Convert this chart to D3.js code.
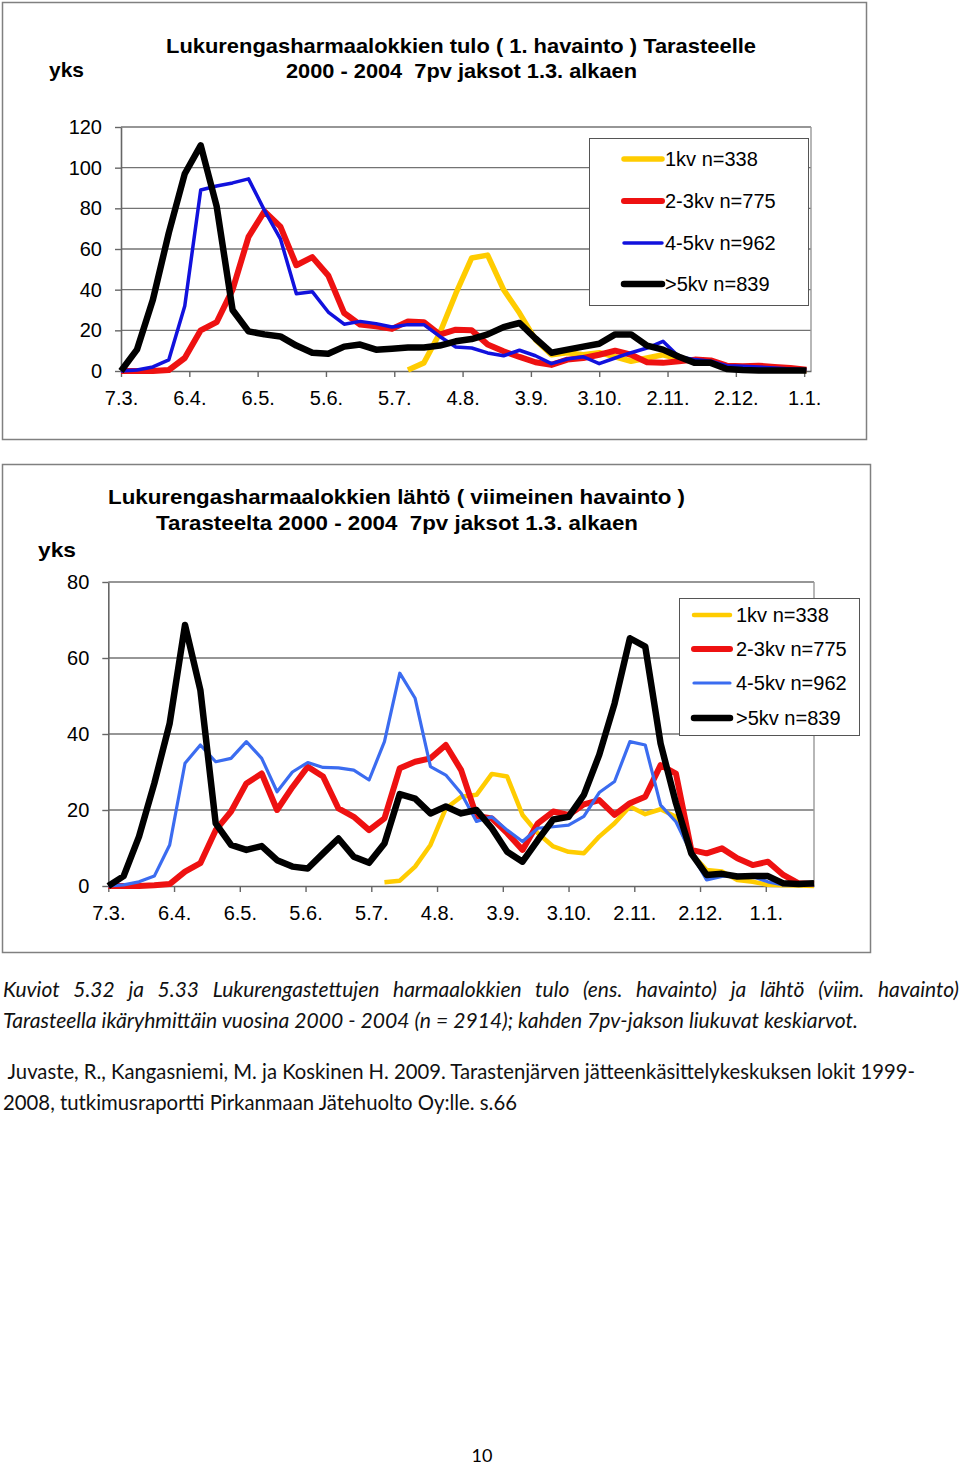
<!DOCTYPE html>
<html>
<head>
<meta charset="utf-8">
<script src="https://cdn.jsdelivr.net/npm/d3@7"></script>
<style>
  body { margin: 0; background: #fff; }
  svg { display: block; }
  text { white-space: pre; }
</style>
</head>
<body>
<div id="chart"></div>
<script>
// weekly periods, first point 7.3., axis ticks every 30 days
const periodStart = new Date(2001, 2, 7);
const tickDays = [0, 30, 60, 90, 120, 150, 180, 210, 240, 270, 300];
const seriesNames = ['1kv n=338', '2-3kv n=775', '4-5kv n=962', '>5kv n=839'];

// Kuvio 5.32: tulo (1. havainto), 44 weekly values
const arrival1kv = [null, null, null, null, null, null, null, null, null, null,
  null, null, null, null, null, null, null, null, 0.5, 4,
  18.7, 38, 55.6, 57, 40, 28.5, 15.4, 8, 9, 8,
  9, 7, 4.8, 6.4, 8, 6, 4.8, 4.3, 2.3, 1.5,
  1, 0.8, 0.5, 0.3];
const arrival23kv = [0, 0, 0, 0.5, 6.4, 20, 24, 40, 66, 78.5,
  71, 52, 56, 47, 28.5, 22.8, 22, 20.7, 24.4, 24,
  17.9, 20.3, 20, 13, 9.7, 6.9, 4.3, 3, 5.6, 6.4,
  8, 10, 8, 4.3, 4, 4.8, 5.6, 5.2, 2.6, 2.3,
  2.6, 2, 1.5, 0.6];
const arrival45kv = [0, 0.5, 2, 5.5, 32, 89, 91, 92.5, 94.5, 79,
  65, 38, 39, 29, 23, 24.4, 23.3, 21.6, 22.8, 22.8,
  17, 11.8, 11.3, 8.9, 7.5, 10.2, 7.5, 3.6, 5.9, 7,
  3.6, 6.4, 9, 11.3, 14.6, 7, 5.6, 4.8, 2.6, 2.3,
  2, 1.5, 1, 0.6];
const arrival5kv = [0, 10.5, 35, 68, 97, 111, 81, 30, 19.5, 18,
  17, 12.5, 9, 8.5, 12, 13, 10.5, 11, 11.5, 11.6,
  12.5, 14.6, 15.7, 18, 21.6, 23.6, 16, 9, 10.5, 12,
  13.4, 18, 18, 12.5, 10.5, 7, 4, 4, 1, 0.5,
  0.3, 0.3, 0.3, 0.3];

// Kuvio 5.33: lähtö (viimeinen havainto), 47 weekly values
const departure1kv = [null, null, null, null, null, null, null, null, null, null,
  null, null, null, null, null, null, null, null, 1, 1.4,
  5.1, 10.8, 20.4, 23.5, 24, 29.5, 28.8, 18.7, 13.9, 10.4,
  9, 8.6, 13, 16.5, 20.9, 18.9, 20.2, 18.2, 8.6, 4.2,
  3.8, 1.6, 1.1, 0.3, 0.2, 0.1, 0];
const departure23kv = [0, 0, 0, 0.2, 0.5, 3.8, 6, 14.7, 19.6, 27,
  29.6, 20, 26, 31.4, 28.8, 20.4, 18.2, 14.7, 17.8, 31,
  32.7, 33.6, 37.1, 30.5, 18.4, 17.8, 13.9, 9.5, 16.5, 19.6,
  18.7, 21.5, 22.6, 18.7, 21.8, 23.5, 31.8, 29.6, 9.5, 8.6,
  9.9, 7.3, 5.5, 6.4, 2.9, 0.7, 0.5];
const departure45kv = [0, 0.3, 1.1, 2.6, 10.8, 32.3, 37.1, 32.7, 33.6, 38,
  33.6, 24.8, 30, 32.5, 31.2, 31.1, 30.5, 27.9, 38, 56,
  49.4, 31.4, 29.2, 24.4, 17, 18.2, 14.7, 11.7, 15.2, 15.6,
  16, 18.3, 24.6, 27.5, 38, 37.1, 21.3, 16.9, 8.6, 1.6,
  2.5, 2.9, 2.5, 1.1, 0.3, 0.3, 0.3];
const departure5kv = [0, 2.6, 13, 27, 42.8, 68.7, 51.6, 16.5, 10.8, 9.5,
  10.5, 6.8, 5.1, 4.6, 8.6, 12.5, 7.7, 6.1, 11.2, 24.2,
  23, 19.1, 20.9, 19.1, 20, 15.2, 9, 6.4, 12.1, 17.5,
  18.2, 24, 34.5, 48, 65.2, 63, 37.5, 21.8, 8.6, 2.9,
  3.2, 2.5, 2.6, 2.6, 0.7, 0.5, 0.7];

const yTicks1 = [0, 20, 40, 60, 80, 100, 120];
const yTicks2 = [0, 20, 40, 60, 80];

const captionLines = [
  'Kuviot 5.32 ja 5.33 Lukurengastettujen harmaalokkien tulo (ens. havainto) ja lähtö (viim. havainto)',
  'Tarasteella ikäryhmittäin vuosina 2000 - 2004 (n = 2914); kahden 7pv-jakson liukuvat keskiarvot.',
  ' Juvaste, R., Kangasniemi, M. ja Koskinen H. 2009. Tarastenjärven jätteenkäsittelykeskuksen lokit 1999-',
  '2008, tutkimusraportti Pirkanmaan Jätehuolto Oy:lle. s.66'
];

const FONT = '"Liberation Sans", Arial, sans-serif';
const GRID = '#737373';

const svg = d3.select('#chart').append('svg')
  .attr('width', 960)
  .attr('height', 1465);
svg.append('rect').attr('width', 960).attr('height', 1465).attr('fill', '#fff');

const fmtTick = d => `${d.getDate()}.${d.getMonth() + 1}.`;

function drawChart(cfg) {
  const g = svg.append('g');

  // outer chart frame
  g.append('rect')
    .attr('x', cfg.frame[0]).attr('y', cfg.frame[1])
    .attr('width', cfg.frame[2]).attr('height', cfg.frame[3])
    .attr('fill', 'none').attr('stroke', '#808080').attr('stroke-width', 1.5);

  const x = d3.scaleTime()
    .domain([periodStart, d3.timeDay.offset(periodStart, cfg.spanDays)])
    .range([cfg.left, cfg.right]);
  const y = d3.scaleLinear()
    .domain([0, cfg.yMax])
    .range([cfg.bottom, cfg.top]);

  // gridlines + plot area border
  g.append('g').selectAll('line')
    .data(cfg.yTicks.filter(v => v > 0))
    .join('line')
    .attr('x1', cfg.left).attr('x2', cfg.right)
    .attr('y1', d => y(d)).attr('y2', d => y(d))
    .attr('stroke', GRID).attr('stroke-width', 1.4);
  g.append('line')
    .attr('x1', cfg.right).attr('x2', cfg.right)
    .attr('y1', cfg.top).attr('y2', cfg.bottom)
    .attr('stroke', '#999').attr('stroke-width', 1.4);

  // axes
  const yAxis = g.append('g')
    .attr('transform', `translate(${cfg.left},0)`)
    .call(d3.axisLeft(y).tickValues(cfg.yTicks).tickSize(6).tickSizeOuter(0).tickPadding(13));
  const xAxis = g.append('g')
    .attr('transform', `translate(0,${cfg.bottom})`)
    .call(d3.axisBottom(x)
      .tickValues(tickDays.map(d => d3.timeDay.offset(periodStart, d)))
      .tickFormat(fmtTick)
      .tickSize(6).tickSizeOuter(0).tickPadding(14));
  [yAxis, xAxis].forEach(a => {
    a.select('.domain').attr('stroke', '#666').attr('stroke-width', 1.6);
    a.selectAll('.tick line').attr('stroke', '#666').attr('stroke-width', 1.4);
    a.selectAll('text').attr('font-family', FONT).attr('font-size', 20).attr('fill', '#000');
  });

  // series
  const line = d3.line()
    .defined(d => d.v != null)
    .x(d => x(d.date))
    .y(d => y(d.v));
  cfg.series.forEach(s => {
    const pts = s.values.map((v, i) => ({ date: d3.timeDay.offset(periodStart, 7 * i), v }));
    g.append('path')
      .datum(pts)
      .attr('d', line)
      .attr('fill', 'none')
      .attr('stroke', s.color)
      .attr('stroke-width', s.width)
      .attr('stroke-linejoin', 'round');
  });

  // legend
  const lb = cfg.legend;
  g.append('rect')
    .attr('x', lb.x).attr('y', lb.y).attr('width', lb.w).attr('height', lb.h)
    .attr('fill', '#fff').attr('stroke', '#555').attr('stroke-width', 1);
  cfg.series.forEach((s, i) => {
    const ry = lb.rows[i];
    g.append('line')
      .attr('x1', lb.lineX[0]).attr('x2', lb.lineX[1])
      .attr('y1', ry).attr('y2', ry)
      .attr('stroke', s.color).attr('stroke-width', s.width).attr('stroke-linecap', 'round');
    g.append('text')
      .attr('x', lb.textX).attr('y', ry + 7)
      .attr('font-family', FONT).attr('font-size', 20)
      .text(seriesNames[i]);
  });

  // titles
  cfg.titles.forEach(t => {
    g.append('text')
      .attr('x', t.x).attr('y', t.y)
      .attr('font-family', FONT).attr('font-size', 21).attr('font-weight', 'bold')
      .attr('textLength', t.w).attr('lengthAdjust', 'spacingAndGlyphs')
      .text(t.text);
  });
}

drawChart({
  frame: [2.5, 2.5, 864, 437],
  left: 121, right: 811, top: 127, bottom: 371,
  spanDays: 303, yMax: 120, yTicks: yTicks1,
  series: [
    { values: arrival1kv, color: '#ffcc00', width: 5.5 },
    { values: arrival23kv, color: '#ee1111', width: 6 },
    { values: arrival45kv, color: '#1111dd', width: 3.5 },
    { values: arrival5kv, color: '#000', width: 6.5 }
  ],
  legend: { x: 589.5, y: 138.5, w: 219, h: 167, rows: [159, 201, 243, 284], lineX: [624, 662], textX: 665 },
  titles: [
    { text: 'Lukurengasharmaalokkien tulo ( 1. havainto ) Tarasteelle', x: 166, y: 53, w: 590 },
    { text: '2000 - 2004  7pv jaksot 1.3. alkaen', x: 286, y: 78, w: 351 },
    { text: 'yks', x: 49, y: 77, w: 35 }
  ]
});

drawChart({
  frame: [2.5, 464.5, 868, 488],
  left: 108.3, right: 814, top: 582, bottom: 886,
  spanDays: 322, yMax: 80, yTicks: yTicks2,
  series: [
    { values: departure1kv, color: '#ffcc00', width: 4.5 },
    { values: departure23kv, color: '#ee1111', width: 6 },
    { values: departure45kv, color: '#3b6cf0', width: 3.2 },
    { values: departure5kv, color: '#000', width: 6.5 }
  ],
  legend: { x: 679.5, y: 598.5, w: 180, h: 137, rows: [615, 649, 683, 718], lineX: [694, 730], textX: 736 },
  titles: [
    { text: 'Lukurengasharmaalokkien lähtö ( viimeinen havainto )', x: 108, y: 504, w: 577 },
    { text: 'Tarasteelta 2000 - 2004  7pv jaksot 1.3. alkaen', x: 156, y: 530, w: 482 },
    { text: 'yks', x: 38, y: 557, w: 38 }
  ]
});

// caption below the charts; font size fitted from the unjustified line of each pair
const CAP = 'Lato, "Open Sans", sans-serif';
const capLayout = [
  { x: 3, y: 997, w: 956, italic: true, justify: true, ref: 1 },
  { x: 3, y: 1028, w: 855, italic: true, ref: 1 },
  { x: 3, y: 1079, w: 912, ref: 2 },
  { x: 3, y: 1110, w: 514, ref: 2 }
];
function probe(txt, italic) {
  const t = svg.append('text')
    .attr('font-family', CAP).attr('font-size', 20)
    .attr('font-style', italic ? 'italic' : 'normal')
    .text(txt);
  const w = t.node().getComputedTextLength();
  t.remove();
  return w;
}
captionLines.forEach((txt, i) => {
  const c = capLayout[i];
  const r = capLayout[c.ref];
  const size = Math.min(21, 20 * r.w / probe(captionLines[c.ref], c.italic));
  const t = svg.append('text')
    .attr('x', c.x).attr('y', c.y)
    .attr('font-family', CAP).attr('font-size', size)
    .attr('font-style', c.italic ? 'italic' : 'normal')
    .attr('fill', '#111')
    .text(txt);
  const natural = t.node().getComputedTextLength();
  if (c.justify) {
    const spaces = txt.split(' ').length - 1;
    if (natural < c.w) t.attr('word-spacing', (c.w - natural) / spaces);
  } else {
    t.attr('textLength', c.w).attr('lengthAdjust', 'spacingAndGlyphs');
  }
});

svg.append('text')
  .attr('x', 482).attr('y', 1462)
  .attr('text-anchor', 'middle')
  .attr('font-family', CAP).attr('font-size', 18)
  .text('10');
</script>
</body>
</html>
